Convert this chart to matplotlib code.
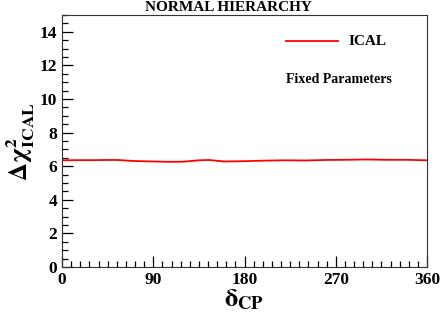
import matplotlib
matplotlib.use('Agg')
import matplotlib.pyplot as plt
from matplotlib.ticker import MultipleLocator

# data
delta_cp = [0, 15, 30, 45, 55, 70, 90, 105, 120, 135, 145, 160, 180, 200, 220, 240, 260, 280, 300, 320, 340, 360]
dchi2_ical = [6.35, 6.36, 6.36, 6.37, 6.37, 6.31, 6.28, 6.26, 6.27, 6.35, 6.37, 6.28,
              6.30, 6.33, 6.35, 6.34, 6.37, 6.38, 6.40, 6.38, 6.38, 6.35]
xticks = [0, 90, 180, 270, 360]
yticks = [0, 2, 4, 6, 8, 10, 12, 14]

plt.rcParams['font.family'] = ['Liberation Serif', 'DejaVu Serif']
plt.rcParams['font.weight'] = 'bold'
plt.rcParams['mathtext.fontset'] = 'stix'

fig = plt.figure(figsize=(4.41, 3.15), dpi=100)
ax = fig.add_axes([0.1406, 0.1524, 0.8277, 0.80])

ax.plot(delta_cp, dchi2_ical, color='#ff0000', lw=1.3)
ax.set_xlim(0, 360)
ax.set_ylim(0, 15)
ax.set_xticks(xticks)
ax.set_yticks(yticks)
ax.xaxis.set_minor_locator(MultipleLocator(9))
ax.yaxis.set_minor_locator(MultipleLocator(0.5))
ax.tick_params(which='both', direction='in', top=False, right=False, labelsize=12.5)
ax.tick_params(which='major', length=8, width=0.9)
ax.tick_params(which='minor', length=4, width=0.9)
for lab in ax.get_xticklabels() + ax.get_yticklabels():
    lab.set_fontweight('bold')
for s in ax.spines.values():
    s.set_color('#333333')

ax.set_xlabel(r'$\mathrm{\delta}_{\mathbf{CP}}$', fontsize=19, labelpad=0)
ax.set_ylabel(r'$\mathrm{\Delta\chi}^{2}_{\mathbf{ICAL}}$', fontsize=18, labelpad=2)

fig.text(0.517, 0.975, 'NORMAL HIERARCHY', ha='center', va='center', fontsize=11, fontweight='bold')

# legend drawn by hand like the ROOT TLegend
ax.plot([0.615, 0.755], [0.895, 0.895], transform=ax.transAxes, color='#ff0000', lw=1.3)
ax.text(0.785, 0.895, 'ICAL', transform=ax.transAxes, ha='left', va='center', fontsize=11, fontweight='bold')
ax.text(0.615, 0.745, 'Fixed Parameters', transform=ax.transAxes, ha='left', va='center', fontsize=10, fontweight='bold')

fig.savefig('out.png', dpi=100)
